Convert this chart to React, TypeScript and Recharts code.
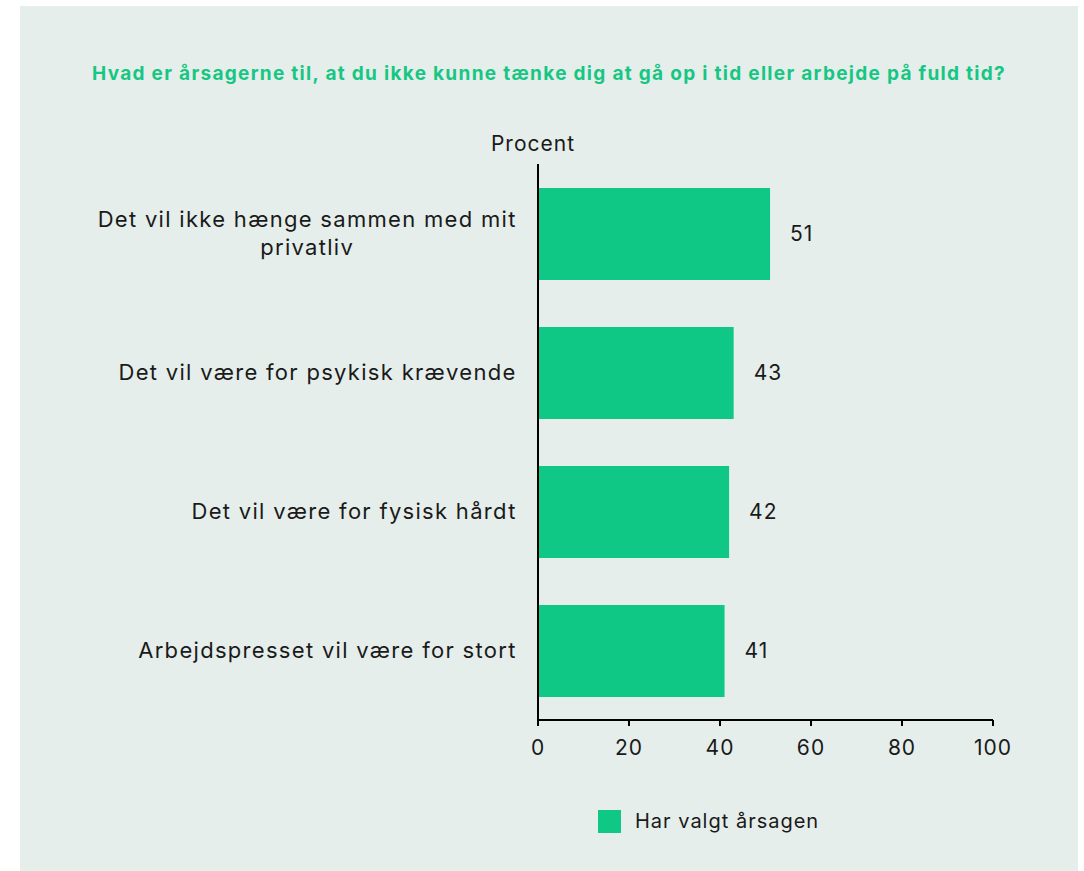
import React from 'react';
import { Bar, BarChart, LabelList, Legend, XAxis, YAxis } from 'recharts';

const FONT = 'Inter, "Open Sans", sans-serif';

const categories = [
  'Det vil ikke hænge sammen med mit\nprivatliv',
  'Det vil være for psykisk krævende',
  'Det vil være for fysisk hårdt',
  'Arbejdspresset vil være for stort',
];
const values = [51, 43, 42, 41];
const xTicks = [0, 20, 40, 60, 80, 100];
const seriesName = 'Har valgt årsagen';
const title = 'Hvad er årsagerne til, at du ikke kunne tænke dig at gå op i tid eller arbejde på fuld tid?';

const data = categories.map((name, i) => ({ name, value: values[i] }));

const GREEN = '#10c886';
const INK = '#1a1a1a';

let ctx: CanvasRenderingContext2D | null = null;
const measure = (txt: string, font: string, ls: number) => {
  if (!ctx) ctx = document.createElement('canvas').getContext('2d');
  if (!ctx) return txt.length * 12;
  ctx.font = font;
  return ctx.measureText(txt).width + ls * txt.length;
};

const CategoryTick = (props: any) => {
  const { x, y, payload } = props;
  const lines: string[] = String(payload.value).split('\n');
  const fontSize = 22;
  const ls = 1.3;
  const widths = lines.map((l) => measure(l, `${fontSize}px ${FONT}`, ls));
  const block = Math.max(...widths);
  const cx = x - block / 2 + ls / 2;
  const lh = 28;
  const y0 = y - ((lines.length - 1) * lh) / 2;
  return (
    <g>
      {lines.map((l, i) => (
        <text
          key={i}
          x={cx}
          y={y0 + i * lh}
          dy="0.35em"
          textAnchor="middle"
          fontSize={fontSize}
          letterSpacing={ls}
          fill={INK}
        >
          {l}
        </text>
      ))}
    </g>
  );
};

const LegendContent = () => (
  <div style={{ display: 'flex', alignItems: 'center', fontSize: 20, letterSpacing: 1, color: INK }}>
    <span style={{ width: 23, height: 23, background: GREEN, display: 'inline-block', marginRight: 14 }} />
    <span>{seriesName}</span>
  </div>
);

const App = () => {
  return (
    <div style={{ position: 'absolute', left: 0, top: 0, width: 1084, height: 871, fontFamily: FONT, background: '#fff' }}>
      <div style={{ position: 'absolute', left: 20, top: 6, width: 1058, height: 865, background: '#e5eeeb' }} />
      <div
        style={{
          position: 'absolute',
          left: 20,
          top: 62,
          width: 1058,
          textAlign: 'center',
          color: '#17c683',
          fontWeight: 700,
          fontSize: 19,
          letterSpacing: 1.3,
          whiteSpace: 'nowrap',
        }}
      >
        {title}
      </div>
      <div style={{ position: 'absolute', left: 0, top: 0 }}>
        <BarChart
          width={1084}
          height={871}
          data={data}
          layout="vertical"
          margin={{ top: 164, right: 91, bottom: 111, left: 0 }}
        >
          <XAxis
            type="number"
            domain={[0, 100]}
            ticks={xTicks}
            height={40}
            tickSize={6}
            tickMargin={14}
            stroke="#000"
            strokeWidth={2}
            tick={{ fill: INK, fontSize: 21, letterSpacing: 1 }}
          />
          <YAxis
            type="category"
            dataKey="name"
            width={538}
            tickLine={false}
            tickMargin={16}
            stroke="#000"
            strokeWidth={2}
            tick={<CategoryTick />}
            label={{
              content: (p: any) => {
                const vb = p.viewBox || { x: 0, y: 164, width: 538 };
                return (
                  <text
                    x={vb.x + vb.width - 5}
                    y={vb.y - 13}
                    textAnchor="middle"
                    fontSize={21}
                    letterSpacing={1}
                    fill={INK}
                  >
                    Procent
                  </text>
                );
              },
            }}
          />
          <Legend
            layout="horizontal"
            verticalAlign="middle"
            align="center"
            wrapperStyle={{ top: 809, left: 598, width: 'auto' }}
            content={<LegendContent />}
          />
          <Bar dataKey="value" name={seriesName} fill={GREEN} barSize={92} isAnimationActive={false}>
            <LabelList dataKey="value" position="right" offset={20} fontSize={21} letterSpacing={1} fill={INK} />
          </Bar>
        </BarChart>
      </div>
    </div>
  );
};

export default App;
